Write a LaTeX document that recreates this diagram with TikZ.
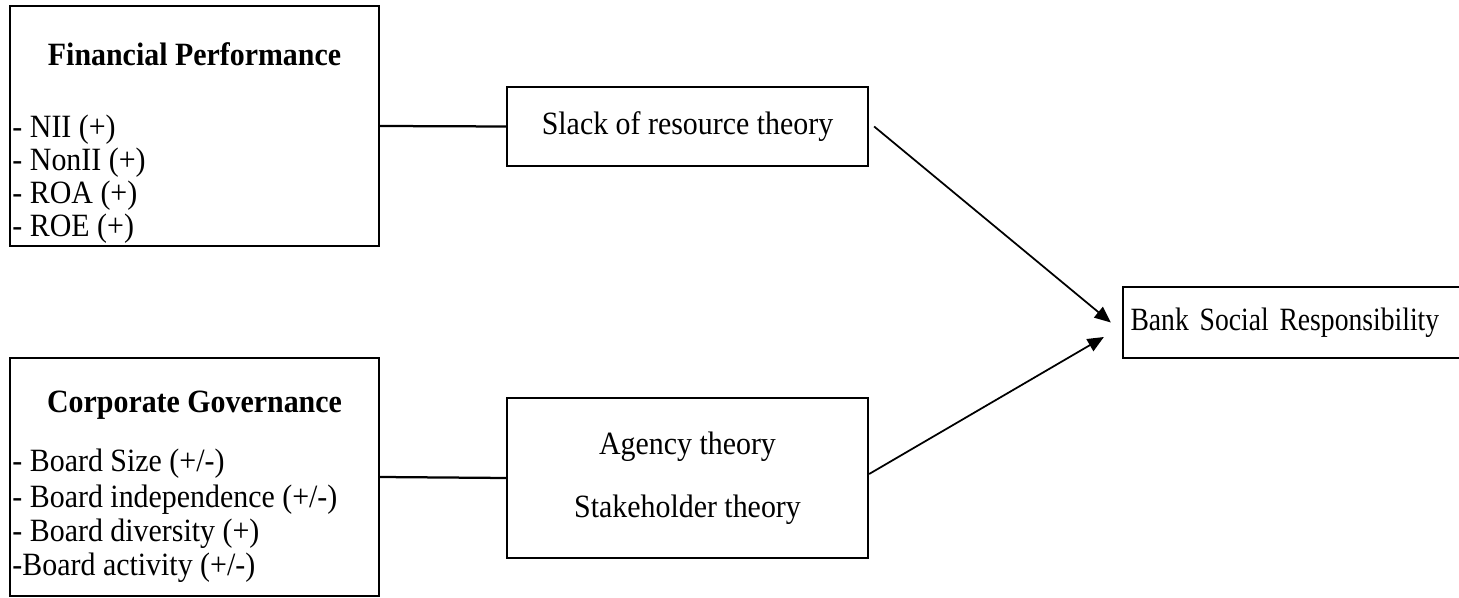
\documentclass[tikz,border=0pt]{standalone}
\usepackage{fontspec}
\setmainfont{Liberation Serif}[FakeStretch=0.92]
\newfontfamily\narrowfont{Liberation Serif}[FakeStretch=0.85]
\usepackage{tikz}
\usetikzlibrary{arrows.meta,positioning,calc}

\begin{document}
\begin{tikzpicture}[
  x=0.4pt, y=-0.4pt,
  every node/.style={font=\fontsize{13pt}{15pt}\selectfont},
  box/.style={draw, line width=0.9pt, rectangle, inner sep=0pt},
  group/.style={box, minimum width=147.6pt},
  theory/.style={box, minimum width=144.4pt, align=center},
  title/.style={anchor=base, font=\fontsize{13pt}{15pt}\selectfont\bfseries},
  item/.style={anchor=base west, inner sep=0pt},
  link/.style={line width=0.9pt},
  ptr/.style={-{Triangle[length=6.5pt,width=5.5pt]}, line width=0.7pt}
]
\useasboundingbox (0,0) rectangle (1459,598);
% independent variables
\node[group, minimum height=96pt] (fp) at (194.5,126) {};
\node[title] (fptitle) at (194.5,66) {Financial Performance};
\node[item] (nii) at (12,138) {- NII (+)};
\node[item] (nonii) at (12,171) {- NonII (+)};
\node[item] (roa) at (12,204) {- ROA (+)};
\node[item] (roe) at (12,237) {- ROE (+)};

\node[group, minimum height=95.2pt] (cg) at (194.5,477) {};
\node[title] (cgtitle) at (194.5,413) {Corporate Governance};
\node[item] (bsize) at (12,472) {- Board Size (+/-)};
\node[item] (bindep) at (12,507) {- Board independence (+/-)};
\node[item] (bdiv) at (12,541) {- Board diversity (+)};
\node[item] (bact) at (12,575) {-Board activity (+/-)};

% theories
\node[theory, minimum height=31.6pt] (slack) at (687.5,126.5) {Slack of resource theory};
\node[theory, minimum height=64pt] (agency) at (687.5,478) {Agency theory\\[10pt]Stakeholder theory};

% dependent variable
\node[box, minimum width=152pt, minimum height=28.4pt, text width=146pt, align=left, inner xsep=2pt,
  font=\fontsize{13pt}{15pt}\narrowfont]
  (bsr) at (1313,322.5) {Bank Social Responsibility};

\draw[link] (fp.east) -- (slack.west);
\draw[link] (cg.east) -- (agency.west);
\draw[ptr] ([xshift=2pt]slack.east) -- ([xshift=-4.4pt,yshift=0pt]bsr.west);
\draw[ptr] ([yshift=1.6pt]agency.east) -- ([xshift=-7.2pt,yshift=-5.8pt]bsr.west);
\end{tikzpicture}
\end{document}
